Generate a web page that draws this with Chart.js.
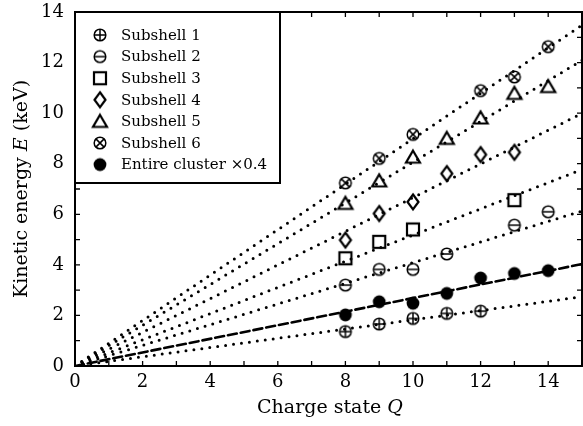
<!DOCTYPE html>
<html>
<head>
<meta charset="utf-8">
<title>Kinetic energy vs charge state</title>
<script src="https://cdn.jsdelivr.net/npm/chart.js@4/dist/chart.umd.min.js"></script>
<style>
  html, body { margin: 0; padding: 0; background: #fff; }
  #wrap { width: 583px; height: 426px; position: relative; }
</style>
</head>
<body>
<div id="wrap"><canvas id="energyChart" width="583" height="426"></canvas></div>
<script>
// Data
const charges = [8, 9, 10, 11, 12, 13, 14];
const subshell1 = [1.36, 1.66, 1.88, 2.08, 2.17, null, null];
const subshell2 = [3.20, 3.82, 3.82, 4.43, null, 5.57, 6.10];
const subshell3 = [4.26, 4.91, 5.40, null, null, 6.56, null];
const subshell4 = [4.98, 6.03, 6.49, 7.61, 8.36, 8.45, null];
const subshell5 = [6.43, 7.32, 8.26, 9.00, 9.81, 10.78, 11.05];
const subshell6 = [7.24, 8.21, 9.16, null, 10.89, 11.43, 12.63];
const cluster = [2.02, 2.54, 2.48, 2.87, 3.48, 3.66, 3.77];

// Linear fits through the origin: value at Q = 0 and at Q = 15
const fitQ = [0, 15];
const fit1 = [0, 2.74];
const fit2 = [0, 6.13];
const fit3 = [0, 7.77];
const fit4 = [0, 9.99];
const fit5 = [0, 12.09];
const fit6 = [0, 13.48];
const fitCluster = [0, 4.03];

const seriesLabels = ["Subshell 1", "Subshell 2", "Subshell 3", "Subshell 4",
                      "Subshell 5", "Subshell 6", "Entire cluster \u00d70.4"];
const xTicks = [0, 2, 4, 6, 8, 10, 12, 14];
const yTicks = [0, 2, 4, 6, 8, 10, 12, 14];

const FONT = "'DejaVu Serif', 'Liberation Serif', serif";

// small canvases used as point styles
function makeMarker(kind) {
    const c = document.createElement("canvas");
    c.width = 20; c.height = 20;
    const g = c.getContext("2d");
    g.strokeStyle = "#000";
    g.fillStyle = "#000";
    g.lineWidth = 1.5;
    const m = 10;
    if (kind === "plus" || kind === "minus" || kind === "cross") {
        const r = 5.8;
        g.beginPath(); g.arc(m, m, r, 0, Math.PI * 2); g.stroke();
        g.beginPath();
        if (kind === "plus") {
            g.moveTo(m - r, m); g.lineTo(m + r, m);
            g.moveTo(m, m - r); g.lineTo(m, m + r);
        } else if (kind === "minus") {
            g.moveTo(m - r, m); g.lineTo(m + r, m);
        } else {
            const d = r * 0.707;
            g.moveTo(m - d, m - d); g.lineTo(m + d, m + d);
            g.moveTo(m - d, m + d); g.lineTo(m + d, m - d);
        }
        g.stroke();
    } else if (kind === "square") {
        g.lineWidth = 2.2;
        g.strokeRect(m - 6, m - 6, 12, 12);
    } else if (kind === "diamond") {
        g.lineWidth = 2.2;
        g.beginPath();
        g.moveTo(m, m - 7.5); g.lineTo(m + 5.5, m);
        g.lineTo(m, m + 7.5); g.lineTo(m - 5.5, m);
        g.closePath(); g.stroke();
    } else if (kind === "triangle") {
        g.lineWidth = 2.2;
        g.beginPath();
        g.moveTo(m, m - 6.5); g.lineTo(m + 7, m + 5.5); g.lineTo(m - 7, m + 5.5);
        g.closePath(); g.stroke();
    } else if (kind === "dot") {
        g.beginPath(); g.arc(m, m, 6.4, 0, Math.PI * 2); g.fill();
    }
    return c;
}

const markers = ["plus", "minus", "square", "diamond", "triangle", "cross", "dot"].map(makeMarker);

function points(values) {
    return charges.map((q, i) => ({ x: q, y: values[i] })).filter(p => p.y !== null);
}

function fitLine(values, dash, width) {
    return {
        type: "line",
        data: fitQ.map((q, i) => ({ x: q, y: values[i] })),
        borderColor: "#000",
        borderWidth: width,
        borderDash: dash,
        borderCapStyle: "round",
        pointRadius: 0,
        pointHoverRadius: 0,
        fill: false,
        tension: 0,
        order: 2
    };
}

// frame, inward ticks, axis titles and the boxed legend
const framePlugin = {
    id: "frame",
    afterDraw(chart) {
        const ctx = chart.ctx;
        const a = chart.chartArea;
        const xs = chart.scales.x, ys = chart.scales.y;
        ctx.save();
        ctx.strokeStyle = "#000";
        ctx.lineWidth = 2;
        ctx.strokeRect(a.left, a.top, a.right - a.left, a.bottom - a.top);

        ctx.lineWidth = 1.3;
        ctx.beginPath();
        for (let q = 1; q < 15; q++) {
            const px = xs.getPixelForValue(q);
            ctx.moveTo(px, a.bottom); ctx.lineTo(px, a.bottom - 5);
            ctx.moveTo(px, a.top); ctx.lineTo(px, a.top + 5);
        }
        for (let e = 1; e < 14; e++) {
            const py = ys.getPixelForValue(e);
            ctx.moveTo(a.left, py); ctx.lineTo(a.left + 5, py);
            ctx.moveTo(a.right, py); ctx.lineTo(a.right - 5, py);
        }
        ctx.stroke();

        // axis titles with italic symbols
        ctx.fillStyle = "#000";
        ctx.textBaseline = "middle";
        function mixed(parts, cx, cy) {
            let total = 0;
            parts.forEach(p => { ctx.font = p[1] + " 19px " + FONT; total += ctx.measureText(p[0]).width; });
            let x = cx - total / 2;
            ctx.textAlign = "left";
            parts.forEach(p => {
                ctx.font = p[1] + " 19px " + FONT;
                ctx.fillText(p[0], x, cy);
                x += ctx.measureText(p[0]).width;
            });
        }
        mixed([["Charge state ", "normal"], ["Q", "italic"]], 330, 408);
        ctx.save();
        ctx.translate(22, 189);
        ctx.rotate(-Math.PI / 2);
        mixed([["Kinetic energy ", "normal"], ["E", "italic"], [" (keV)", "normal"]], 0, 0);
        ctx.restore();

        // legend box
        const bx = a.left, by = a.top, bw = 205, bh = 171;
        ctx.fillStyle = "#fff";
        ctx.fillRect(bx, by, bw, bh);
        ctx.lineWidth = 2;
        ctx.strokeRect(bx, by, bw, bh);
        ctx.fillStyle = "#000";
        ctx.font = "15px " + FONT;
        ctx.textAlign = "left";
        seriesLabels.forEach((label, i) => {
            const rowY = by + 23 + i * 21.6;
            ctx.drawImage(markers[i], bx + 25 - 10, rowY - 10);
            ctx.fillText(label, bx + 46, rowY + 1);
        });
        ctx.restore();
    }
};

document.addEventListener("DOMContentLoaded", function () {
    const ctx = document.getElementById("energyChart").getContext("2d");
    const seriesValues = [subshell1, subshell2, subshell3, subshell4, subshell5, subshell6, cluster];

    const datasets = seriesValues.map((vals, i) => ({
        type: "scatter",
        label: seriesLabels[i],
        data: points(vals),
        pointStyle: markers[i],
        pointRadius: 8,
        pointHoverRadius: 8,
        showLine: false,
        order: 1
    }));

    datasets.push(
        fitLine(fit1, [0, 8], 3),
        fitLine(fit2, [0, 8], 3),
        fitLine(fit3, [0, 8], 3),
        fitLine(fit4, [0, 8], 3),
        fitLine(fit5, [0, 8], 3),
        fitLine(fit6, [0, 8], 3),
        fitLine(fitCluster, [9, 4], 2.6)
    );

    new Chart(ctx, {
        type: "scatter",
        data: { datasets: datasets },
        options: {
            responsive: false,
            animation: false,
            events: [],
            layout: { autoPadding: false, padding: { top: 12, right: 1, left: 0, bottom: 0 } },
            plugins: { legend: { display: false }, tooltip: { enabled: false } },
            scales: {
                x: {
                    type: "linear",
                    min: 0, max: 15,
                    afterFit: s => { s.height = 60; s.paddingLeft = 0; s.paddingRight = 0; },
                    afterBuildTicks: s => { s.ticks = xTicks.map(v => ({ value: v })); },
                    grid: { display: false, drawTicks: false },
                    border: { display: false },
                    ticks: { padding: 6, color: "#000", font: { family: FONT, size: 18 } }
                },
                y: {
                    type: "linear",
                    min: 0, max: 14,
                    afterFit: s => { s.width = 75; s.paddingTop = 0; s.paddingBottom = 0; },
                    afterBuildTicks: s => { s.ticks = yTicks.map(v => ({ value: v })); },
                    grid: { display: false, drawTicks: false },
                    border: { display: false },
                    ticks: { padding: 11, color: "#000", font: { family: FONT, size: 18 } }
                }
            }
        },
        plugins: [framePlugin]
    });
});
</script>
</body>
</html>
